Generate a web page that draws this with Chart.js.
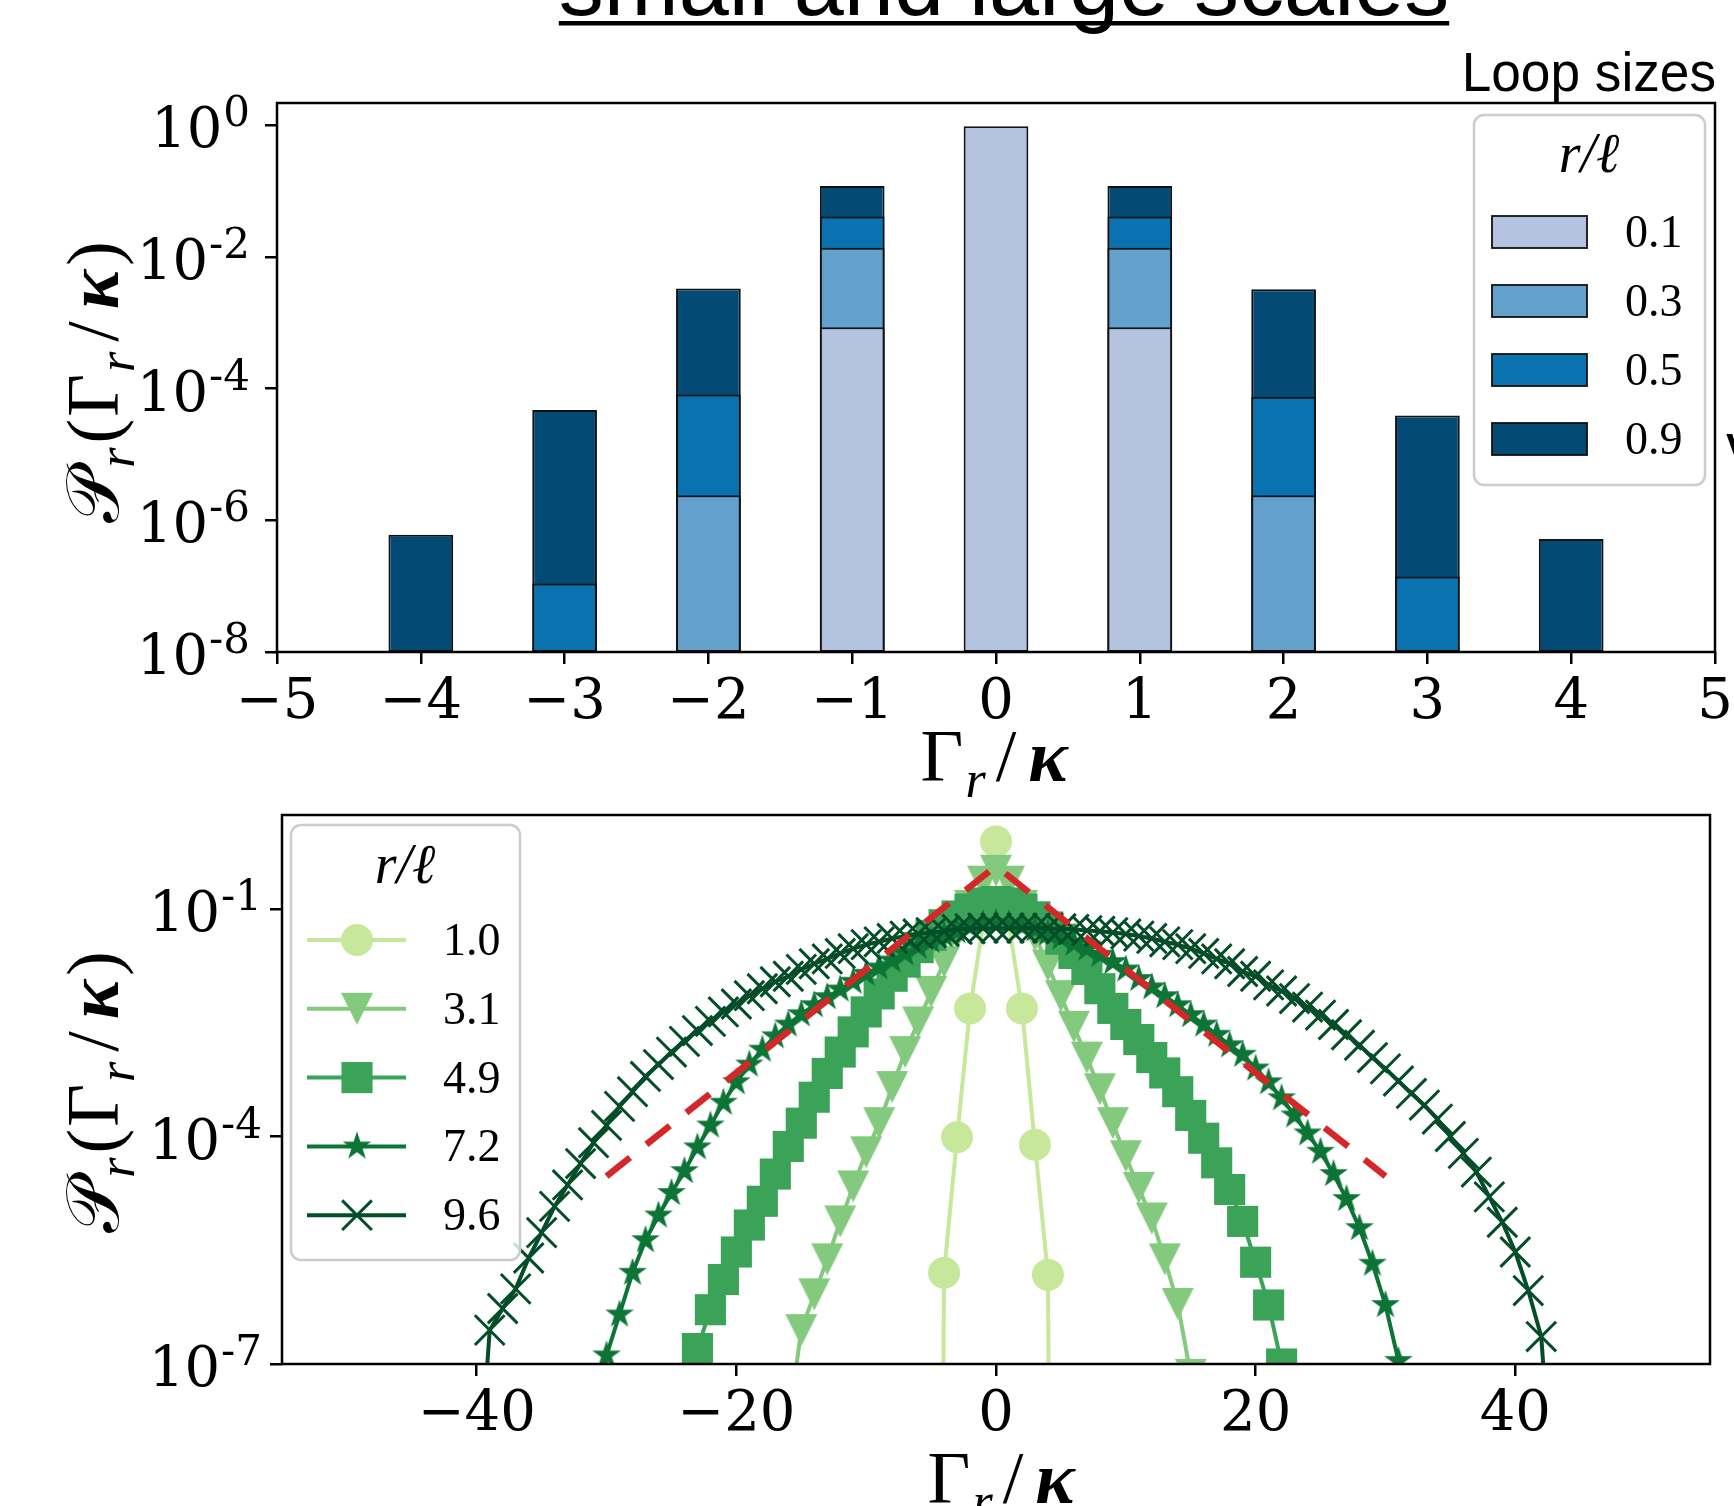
<!DOCTYPE html>
<html>
<head>
<meta charset="utf-8">
<script src="https://cdn.jsdelivr.net/npm/chart.js@4.4.1/dist/chart.umd.min.js"></script>
<style>
  html, body { margin: 0; padding: 0; background: #fff; }
  body { width: 1734px; height: 1506px; position: relative; overflow: hidden; }
  canvas { position: absolute; left: 0; top: 0; }
</style>
</head>
<body>
<canvas id="topChart" width="1734" height="1506"></canvas>
<canvas id="bottomChart" width="1734" height="1506"></canvas>
<script>
// ---------- top panel: bars of P_r(Γ_r/κ), small loops ----------
const barCenters = [-4, -3, -2, -1, 0, 1, 2, 3, 4];
const barSizes = ["0.1", "0.3", "0.5", "0.9"];
const bar01 = [null, null, null, 8.5e-4, 0.96, 8.5e-4, null, null, null];
const bar03 = [null, null, 2.4e-6, 1.37e-2, null, 1.37e-2, 2.4e-6, null, null];
const bar05 = [null, 1.1e-7, 8.1e-5, 4.1e-2, null, 4.1e-2, 7.5e-5, 1.4e-7, null];
const bar09 = [6.0e-7, 4.7e-5, 3.3e-3, 0.119, null, 0.119, 3.2e-3, 3.9e-5, 5.2e-7];

const topXTicks = [-5, -4, -3, -2, -1, 0, 1, 2, 3, 4, 5];
const topXTickLabels = ["−5", "−4", "−3", "−2", "−1", "0", "1", "2", "3", "4", "5"];
const topYTicks = [1e-8, 1e-6, 1e-4, 1e-2, 1];
const topYTickExps = ["-8", "-6", "-4", "-2", "0"];

// ---------- bottom panel: P_r(Γ_r/κ), large loops ----------
const lineSizes = ["1.0", "3.1", "4.9", "7.2", "9.6"];

// 1e-30 = count drops to zero, line falls straight off the axis
const g10X = [-5, -4, -3, -2, 0, 2, 3, 4, 5];
const g10Y = [1e-30, 1.6e-6, 9.8e-5, 4.9e-3, 0.78, 4.9e-3, 7.8e-5, 1.5e-6, 1e-30];

const g31X = [-16, -15, -14, -13, -12, -11, -10, -9, -8, -7, -6, -5, -4, -3, -2, -1, 0,
  1, 2, 3, 4, 5, 6, 7, 8, 9, 10, 11, 12, 13, 14, 15];
const g31Y = [1.6e-8, 2.8e-7, 8.3e-7, 2.4e-6, 7.6e-6, 2.2e-5, 6.2e-5, 1.5e-4, 4.5e-4, 1.3e-3,
  3.2e-3, 8.1e-3, 2.0e-2, 4.8e-2, 0.11, 0.23, 0.32,
  0.23, 0.11, 4.5e-2, 1.8e-2, 7.1e-3, 2.8e-3, 1.1e-3, 4.2e-4, 1.5e-4, 5.5e-5, 2.1e-5, 8.3e-6,
  2.4e-6, 6.2e-7, 7.2e-8];

const g49X = [-24, -23, -22, -21, -20, -19, -18, -17, -16, -15, -14, -13, -12, -11, -10, -9,
  -8, -7, -6, -5, -4, -3, -2, -1, 0, 1, 2, 3, 4, 5, 6, 7, 8, 9, 10, 11, 12, 13, 14, 15, 16,
  17, 18, 19, 20, 21, 22, 23];
const g49Y = [1.0e-8, 1.6e-7, 5.2e-7, 1.3e-6, 3.0e-6, 6.8e-6, 1.4e-5, 3.2e-5, 7.4e-5, 1.5e-4,
  3.3e-4, 6.8e-4, 1.3e-3, 2.4e-3, 4.4e-3, 7.6e-3, 1.3e-2, 2.0e-2, 3.1e-2, 4.5e-2, 6.2e-2,
  8.1e-2, 0.10, 0.12, 0.126,
  0.12, 0.10, 7.9e-2, 5.8e-2, 4.0e-2, 2.6e-2, 1.6e-2, 8.9e-3, 4.9e-3, 3.0e-3, 1.9e-3, 1.1e-3,
  6.9e-4, 3.9e-4, 1.9e-4, 9.5e-5, 4.5e-5, 2.0e-5, 7.6e-6, 2.2e-6, 6.0e-7, 1.0e-7, 3.2e-9];

const g72X = [-31, -30, -29, -28, -27, -26, -25, -24, -23, -22, -21, -20, -19, -18, -17, -16,
  -15, -14, -13, -12, -11, -10, -9, -8, -7, -6, -5, -4, -3, -2, -1, 0, 1, 2, 3, 4, 5, 6, 7, 8,
  9, 10, 11, 12, 13, 14, 15, 16, 17, 18, 19, 20, 21, 22, 23, 24, 25, 26, 27, 28, 29, 30, 31, 32];
const g72Y = [3.2e-9, 1.3e-7, 4.5e-7, 1.6e-6, 4.3e-6, 9.1e-6, 1.8e-5, 3.5e-5, 7.2e-5, 1.4e-4,
  2.8e-4, 5.2e-4, 8.9e-4, 1.4e-3, 2.1e-3, 3.0e-3, 4.1e-3, 5.4e-3, 6.9e-3, 8.7e-3, 1.1e-2,
  1.4e-2, 1.7e-2, 2.1e-2, 2.6e-2, 3.2e-2, 3.8e-2, 4.5e-2, 5.1e-2, 5.8e-2, 6.3e-2, 6.6e-2,
  6.3e-2, 5.9e-2, 5.4e-2, 4.8e-2, 4.2e-2, 3.5e-2, 3.0e-2, 2.5e-2, 2.0e-2, 1.6e-2, 1.2e-2,
  9.3e-3, 7.1e-3, 5.4e-3, 4.0e-3, 3.0e-3, 2.2e-3, 1.6e-3, 1.2e-3, 7.9e-4, 5.2e-4, 3.2e-4,
  1.9e-4, 1.1e-4, 6.3e-5, 3.2e-5, 1.5e-5, 6.2e-6, 2.1e-6, 6.0e-7, 1.1e-7, 3.2e-9];

const g96X = [-40, -39, -38, -37, -36, -35, -34, -33, -32, -31, -30, -29, -28, -27, -26, -25,
  -24, -23, -22, -21, -20, -19, -18, -17, -16, -15, -14, -13, -12, -11, -10, -9, -8, -7, -6,
  -5, -4, -3, -2, -1, 0, 1, 2, 3, 4, 5, 6, 7, 8, 9, 10, 11, 12, 13, 14, 15, 16, 17, 18, 19,
  20, 21, 22, 23, 24, 25, 26, 27, 28, 29, 30, 31, 32, 33, 34, 35, 36, 37, 38, 39, 40, 41, 42, 43];
const g96Y = [1e-9, 2.8e-7, 5.4e-7, 9.8e-7, 2.5e-6, 5.4e-6, 1.2e-5, 2.3e-5, 4.4e-5, 8.3e-5,
  1.4e-4, 2.5e-4, 3.9e-4, 6.2e-4, 8.9e-4, 1.3e-3, 1.8e-3, 2.5e-3, 3.3e-3, 4.4e-3, 5.6e-3,
  7.2e-3, 8.9e-3, 1.1e-2, 1.3e-2, 1.6e-2, 1.9e-2, 2.2e-2, 2.6e-2, 3.0e-2, 3.4e-2, 3.7e-2,
  4.1e-2, 4.4e-2, 4.7e-2, 4.9e-2, 5.1e-2, 5.4e-2, 5.5e-2, 5.6e-2, 5.6e-2,
  5.6e-2, 5.6e-2, 5.6e-2, 5.6e-2, 5.5e-2, 5.4e-2, 5.2e-2, 5.1e-2, 4.9e-2, 4.7e-2, 4.4e-2,
  4.1e-2, 3.7e-2, 3.4e-2, 3.0e-2, 2.6e-2, 2.2e-2, 1.9e-2, 1.5e-2, 1.3e-2, 1.0e-2, 8.3e-3,
  6.6e-3, 5.1e-3, 4.0e-3, 3.0e-3, 2.2e-3, 1.6e-3, 1.1e-3, 7.8e-4, 5.4e-4, 3.7e-4, 2.6e-4,
  1.7e-4, 1.0e-4, 6.0e-5, 3.4e-5, 1.6e-5, 7.4e-6, 3.0e-6, 9.3e-7, 2.3e-7, 1e-9];

// red dashed reference
const refX = [-30, 0, 30];
const refY = [3.0e-5, 0.37, 3.0e-5];

const bottomXTicks = [-40, -20, 0, 20, 40];
const bottomXTickLabels = ["−40", "−20", "0", "20", "40"];
const bottomYTicks = [1e-7, 1e-4, 1e-1];
const bottomYTickExps = ["-7", "-4", "-1"];

// ---------- layout / style ----------
const W = 1734, H = 1506;
const topPlot = { left: 277, right: 1715, top: 103, bottom: 652 };
const bottomPlot = { left: 282, right: 1721, top: 815, bottom: 1364 };
const SERIF = "'DejaVu Serif', serif";
const TICK_FONT = { family: SERIF, size: 56 };
const MATH = "'Liberation Serif', 'DejaVu Serif', serif";
const barColors = ["#b3c3e0", "#64a0cc", "#0b72b0", "#034b74"];
const lineColors = ["#c7e89b", "#84ca7e", "#3ba358", "#0c7434", "#034e28"];

Chart.defaults.color = "#000";
Chart.defaults.animation = false;

function toPoints(xs, ys) {
  return xs.map((x, i) => ({ x: x, y: ys[i] })).filter(p => p.y !== null);
}

function tickText(values, labels) {
  return function (value) {
    if (!labels) return "";
    const i = values.findIndex(v => Math.abs(v - value) <= Math.abs(v) * 1e-6);
    return i >= 0 ? labels[i] : "";
  };
}

function axis(type, min, max, values, labels, size, pad, isX) {
  return {
    type: type,
    min: min,
    max: max,
    offset: false,
    grid: { drawOnChartArea: false, offset: false, color: "#000", lineWidth: 2.5, tickLength: 12 },
    border: { display: false },
    ticks: { font: TICK_FONT, color: "#000", padding: pad, autoSkip: false, maxRotation: 0,
      callback: tickText(values, labels) },
    afterBuildTicks: s => { s.ticks = values.map(v => ({ value: v })); },
    afterFit: s => {
      if (isX) { s.height = size; s.paddingLeft = 0; s.paddingRight = 0; }
      else { s.width = size; s.paddingTop = 0; s.paddingBottom = 0; }
    }
  };
}

// "10" with a raised exponent, placed on the log axis ticks
function drawPowerTicks(chart, values, exps, right) {
  const s = chart.scales.y, ctx = chart.ctx;
  ctx.save();
  ctx.fillStyle = "#000";
  ctx.textAlign = "right";
  ctx.textBaseline = "alphabetic";
  values.forEach((v, i) => {
    const y = s.getPixelForValue(v);
    ctx.font = `42px ${SERIF}`;
    const ew = ctx.measureText(exps[i]).width;
    ctx.fillText(exps[i], right, y + 1);
    ctx.font = `56px ${SERIF}`;
    ctx.fillText("10", right - ew - 1, y + 22);
  });
  ctx.restore();
}

function markerCanvas(draw, w, h) {
  const c = document.createElement("canvas");
  c.width = w;
  c.height = h;
  draw(c.getContext("2d"), w, h);
  return c;
}

const triangleDown = markerCanvas((g, w, h) => {
  g.fillStyle = lineColors[1];
  g.beginPath();
  g.moveTo(1, 1); g.lineTo(w - 1, 1); g.lineTo(w / 2, h - 1);
  g.closePath();
  g.fill();
}, 34, 34);

const starMark = markerCanvas((g, w, h) => {
  const R = 15, r = R * 0.382, cx = w / 2, cy = R + 1;
  g.fillStyle = lineColors[3];
  g.beginPath();
  for (let k = 0; k < 10; k++) {
    const rr = k % 2 ? r : R;
    const a = -Math.PI / 2 + k * Math.PI / 5;
    g.lineTo(cx + rr * Math.cos(a), cy + rr * Math.sin(a));
  }
  g.closePath();
  g.fill();
}, 32, 32);

function drawMath(ctx, parts, x, y, angle) {
  ctx.save();
  ctx.translate(x, y);
  ctx.rotate(angle);
  ctx.textAlign = "left";
  ctx.textBaseline = "alphabetic";
  ctx.fillStyle = "#000";
  let w = 0;
  parts.forEach(p => {
    ctx.font = p.font;
    p.w = ctx.measureText(p.t).width + (p.kern || 0);
    w += p.w;
  });
  let cx = -w / 2;
  parts.forEach(p => {
    ctx.font = p.font;
    ctx.fillText(p.t, cx, p.dy || 0);
    cx += p.w;
  });
  ctx.restore();
}

function gammaParts(s) {
  const sub = Math.round(s * 0.7);
  return [
    { t: "Γ", font: `${s}px ${MATH}`, kern: 2 },
    { t: "r", font: `italic ${sub}px ${MATH}`, dy: s * 0.22, kern: 10 },
    { t: "/", font: `${s}px ${MATH}`, kern: 12 },
    { t: "κ", font: `italic bold ${s}px ${MATH}` }
  ];
}

function probParts(s) {
  const sub = Math.round(s * 0.7);
  return [
    { t: "𝒫", font: `${s}px ${MATH}`, kern: 2 },
    { t: "r", font: `italic ${sub}px ${MATH}`, dy: s * 0.22, kern: 4 },
    { t: "(", font: `${s}px ${MATH}`, kern: 2 },
    { t: "Γ", font: `${s}px ${MATH}`, kern: 2 },
    { t: "r", font: `italic ${sub}px ${MATH}`, dy: s * 0.22, kern: 10 },
    { t: "/", font: `${s}px ${MATH}`, kern: 12 },
    { t: "κ", font: `italic bold ${s}px ${MATH}`, kern: 4 },
    { t: ")", font: `${s}px ${MATH}` }
  ];
}

function roundBox(ctx, x0, y0, x1, y1, r) {
  ctx.beginPath();
  ctx.moveTo(x0 + r, y0);
  ctx.arcTo(x1, y0, x1, y1, r);
  ctx.arcTo(x1, y1, x0, y1, r);
  ctx.arcTo(x0, y1, x0, y0, r);
  ctx.arcTo(x0, y0, x1, y0, r);
  ctx.closePath();
  ctx.fillStyle = "rgba(255,255,255,0.8)";
  ctx.fill();
  ctx.strokeStyle = "#cccccc";
  ctx.lineWidth = 2.5;
  ctx.stroke();
}

function drawFrame(chart) {
  const a = chart.chartArea, ctx = chart.ctx;
  ctx.save();
  ctx.strokeStyle = "#000";
  ctx.lineWidth = 2.5;
  ctx.strokeRect(a.left, a.top, a.right - a.left, a.bottom - a.top);
  ctx.restore();
}

// ---------- top chart ----------
const topDecor = {
  id: "topDecor",
  afterDraw(chart) {
    const ctx = chart.ctx;
    drawFrame(chart);
    drawPowerTicks(chart, topYTicks, topYTickExps, 250);
    ctx.save();
    // heading, cut by the top edge
    ctx.font = `90px 'Liberation Sans', Arial, sans-serif`;
    ctx.textAlign = "center";
    ctx.textBaseline = "alphabetic";
    ctx.fillStyle = "#000";
    ctx.fillText("small and large scales", 1004, 15);
    const tw = ctx.measureText("small and large scales").width;
    ctx.fillRect(1004 - tw / 2, 21, tw, 4.5);
    ctx.save();
    ctx.translate(1716, 91);
    ctx.scale(0.95, 1);
    ctx.font = `56px 'Liberation Sans', Arial, sans-serif`;
    ctx.textAlign = "right";
    ctx.fillText("Loop sizes", 0, 0);
    ctx.restore();
    ctx.font = `bold 40px 'Liberation Sans', Arial, sans-serif`;
    ctx.textAlign = "left";
    ctx.fillText("V", 1726, 462);

    // legend
    roundBox(ctx, 1474, 115, 1705, 485, 10);
    ctx.fillStyle = "#000";
    ctx.textAlign = "center";
    ctx.font = `italic 56px ${MATH}`;
    ctx.fillText("r/ℓ", 1589, 172);
    ctx.textAlign = "left";
    barSizes.forEach((lab, i) => {
      const cy = 232 + i * 69;
      ctx.fillStyle = barColors[i];
      ctx.fillRect(1492, cy - 16, 95, 32);
      ctx.strokeStyle = "#111";
      ctx.lineWidth = 1.8;
      ctx.strokeRect(1492, cy - 16, 95, 32);
      ctx.fillStyle = "#000";
      ctx.font = `46px ${MATH}`;
      ctx.fillText(lab, 1625, cy + 15);
    });
    ctx.restore();

    drawMath(ctx, gammaParts(74), 994, 781, 0);
    drawMath(ctx, probParts(74), 118, 382, -Math.PI / 2);
  }
};

const barSeries = [bar01, bar03, bar05, bar09];

new Chart(document.getElementById("topChart"), {
  type: "bar",
  data: {
    datasets: barSeries.map((vals, i) => ({
      label: barSizes[i],
      data: toPoints(barCenters, vals),
      backgroundColor: barColors[i],
      borderColor: "#111",
      borderWidth: 2,
      borderSkipped: false,
      grouped: false,
      barPercentage: 0.45,
      categoryPercentage: 1
    }))
  },
  options: {
    responsive: false,
    events: [],
    layout: { padding: { left: topPlot.left - 200, top: topPlot.top, right: W - topPlot.right, bottom: H - topPlot.bottom - 100 } },
    plugins: { legend: { display: false }, tooltip: { enabled: false } },
    scales: {
      x: axis("linear", -5, 5, topXTicks, topXTickLabels, 100, 6, true),
      y: axis("logarithmic", 1e-8, 2.16, topYTicks, null, 200, 16, false)
    }
  },
  plugins: [topDecor]
});

// ---------- bottom chart ----------
const lineSeries = [
  { x: g10X, y: g10Y, style: "circle", radius: 16 },
  { x: g31X, y: g31Y, style: triangleDown, radius: 17 },
  { x: g49X, y: g49Y, style: "rect", radius: 22 },
  { x: g72X, y: g72Y, style: starMark, radius: 15 },
  { x: g96X, y: g96Y, style: "crossRot", radius: 21 }
];

const bottomDecor = {
  id: "bottomDecor",
  afterDraw(chart) {
    const ctx = chart.ctx;
    drawFrame(chart);
    drawPowerTicks(chart, bottomYTicks, bottomYTickExps, 262);
    ctx.save();
    roundBox(ctx, 291, 825, 520, 1260, 10);
    ctx.fillStyle = "#000";
    ctx.textAlign = "center";
    ctx.font = `italic 56px ${MATH}`;
    ctx.fillText("r/ℓ", 405, 883);
    ctx.textAlign = "left";
    lineSeries.forEach((s, i) => {
      const cy = 940 + i * 68.8;
      ctx.strokeStyle = lineColors[i];
      ctx.fillStyle = lineColors[i];
      ctx.lineWidth = 4;
      ctx.beginPath();
      ctx.moveTo(307, cy);
      ctx.lineTo(406, cy);
      ctx.stroke();
      ctx.lineWidth = 3;
      Chart.helpers.drawPoint(ctx, {
        pointStyle: s.style, radius: s.radius, rotation: 0,
        borderWidth: s.style === "crossRot" ? 3 : 0
      }, 357, cy);
      ctx.fillStyle = "#000";
      ctx.font = `46px ${MATH}`;
      ctx.fillText(lineSizes[i], 443, cy + 15);
    });
    ctx.restore();

    drawMath(ctx, gammaParts(74), 1001, 1503, 0);
    drawMath(ctx, probParts(74), 118, 1092, -Math.PI / 2);
  }
};

const lineDatasets = lineSeries.map((s, i) => ({
  label: lineSizes[i],
  data: toPoints(s.x, s.y),
  borderColor: lineColors[i],
  backgroundColor: lineColors[i],
  borderWidth: 4,
  pointStyle: s.style,
  pointRadius: s.radius,
  pointBorderWidth: s.style === "crossRot" ? 3 : 0,
  pointBorderColor: lineColors[i],
  pointBackgroundColor: lineColors[i],
  tension: 0,
  fill: false,
  clip: 0,
  order: 5 - i
}));

lineDatasets.push({
  label: "reference",
  data: toPoints(refX, refY),
  borderColor: "#d62728",
  borderWidth: 6.5,
  borderDash: [30, 21],
  pointRadius: 0,
  tension: 0,
  fill: false,
  clip: 0,
  order: 0
});

new Chart(document.getElementById("bottomChart"), {
  type: "line",
  data: { datasets: lineDatasets },
  options: {
    responsive: false,
    events: [],
    layout: { padding: { left: bottomPlot.left - 200, top: bottomPlot.top, right: W - bottomPlot.right, bottom: H - bottomPlot.bottom - 100 } },
    plugins: { legend: { display: false }, tooltip: { enabled: false } },
    scales: {
      x: axis("linear", -55, 55, bottomXTicks, bottomXTickLabels, 100, 6, true),
      y: axis("logarithmic", 1e-7, 1.74, bottomYTicks, null, 200, 16, false)
    }
  },
  plugins: [bottomDecor]
});
</script>
</body>
</html>
